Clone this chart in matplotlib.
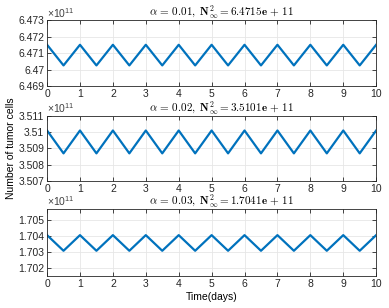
import matplotlib
matplotlib.use("Agg")
import matplotlib.pyplot as plt

plt.rcParams['font.family'] = ['Liberation Sans', 'DejaVu Sans']
plt.rcParams['mathtext.fontset'] = 'cm'

# time points (days)
t = [0, 0.5, 1, 1.5, 2, 2.5, 3, 3.5, 4, 4.5, 5, 5.5, 6, 6.5, 7, 7.5, 8, 8.5, 9, 9.5, 10]

# tumor cells, in units of 1e11
n_a1 = [6.47151, 6.47025, 6.47151, 6.47025, 6.47151, 6.47025, 6.47151, 6.47025, 6.47151, 6.47025, 6.47151,
        6.47025, 6.47151, 6.47025, 6.47151, 6.47025, 6.47151, 6.47025, 6.47151, 6.47025, 6.47151]
n_a2 = [3.51010, 3.50870, 3.51010, 3.50870, 3.51010, 3.50870, 3.51010, 3.50870, 3.51010, 3.50870, 3.51010,
        3.50870, 3.51010, 3.50870, 3.51010, 3.50870, 3.51010, 3.50870, 3.51010, 3.50870, 3.51010]
n_a3 = [1.70406, 1.70308, 1.70406, 1.70308, 1.70406, 1.70308, 1.70406, 1.70308, 1.70406, 1.70308, 1.70406,
        1.70308, 1.70406, 1.70308, 1.70406, 1.70308, 1.70406, 1.70308, 1.70406, 1.70308, 1.70406]

titles = [r'$\alpha\,=\,\mathbf{0.01,\ N^2_\infty = 6.4715e\,+\,11}$',
          r'$\alpha\,=\,\mathbf{0.02,\ N^2_\infty = 3.5101e\,+\,11}$',
          r'$\alpha\,=\,\mathbf{0.03,\ N^2_\infty = 1.7041e\,+\,11}$']
ylims = [(6.469, 6.473), (3.507, 3.511), (1.7015, 1.7057)]
yticks = [[6.469, 6.470, 6.471, 6.472, 6.473],
          [3.507, 3.508, 3.509, 3.510, 3.511],
          [1.702, 1.703, 1.704, 1.705]]
ytick_labels = [['6.469', '6.47', '6.471', '6.472', '6.473'],
                ['3.507', '3.508', '3.509', '3.51', '3.511'],
                ['1.702', '1.703', '1.704', '1.705']]
series = [n_a1, n_a2, n_a3]

fig = plt.figure(figsize=(3.89, 3.08), dpi=100)
positions = [[0.121, 0.721, 0.846, 0.213],
             [0.121, 0.412, 0.846, 0.212],
             [0.121, 0.104, 0.846, 0.2175]]

for i in range(3):
    ax = fig.add_axes(positions[i])
    ax.plot(t, series[i], color='#0072BD', lw=1.6)
    ax.set_xlim(0, 10)
    ax.set_ylim(*ylims[i])
    ax.set_xticks(range(0, 11))
    ax.set_yticks(yticks[i])
    ax.set_yticklabels(ytick_labels[i])
    ax.grid(True, color='#e6e6e6', lw=0.6)
    ax.set_axisbelow(True)
    ax.tick_params(direction='in', top=True, right=True, labelsize=7.5, length=3,
                   width=0.6, colors='#262626', pad=2)
    for s in ax.spines.values():
        s.set_color('#262626')
        s.set_linewidth(0.6)
    ax.set_title(titles[i], fontsize=8, pad=3, x=0.53)
    # exponent label like MATLAB's axis multiplier
    ax.text(0.0, 1.01, r'$\mathregular{\times10^{11}}$', transform=ax.transAxes, fontsize=7.5,
            color='#404040', ha='left', va='bottom')
    if i == 1:
        ax.set_ylabel('Number of tumor cells', fontsize=7.5, labelpad=2)
    if i == 2:
        ax.set_xlabel('Time(days)', fontsize=7.5, labelpad=2)

fig.savefig('out.png', dpi=100)
